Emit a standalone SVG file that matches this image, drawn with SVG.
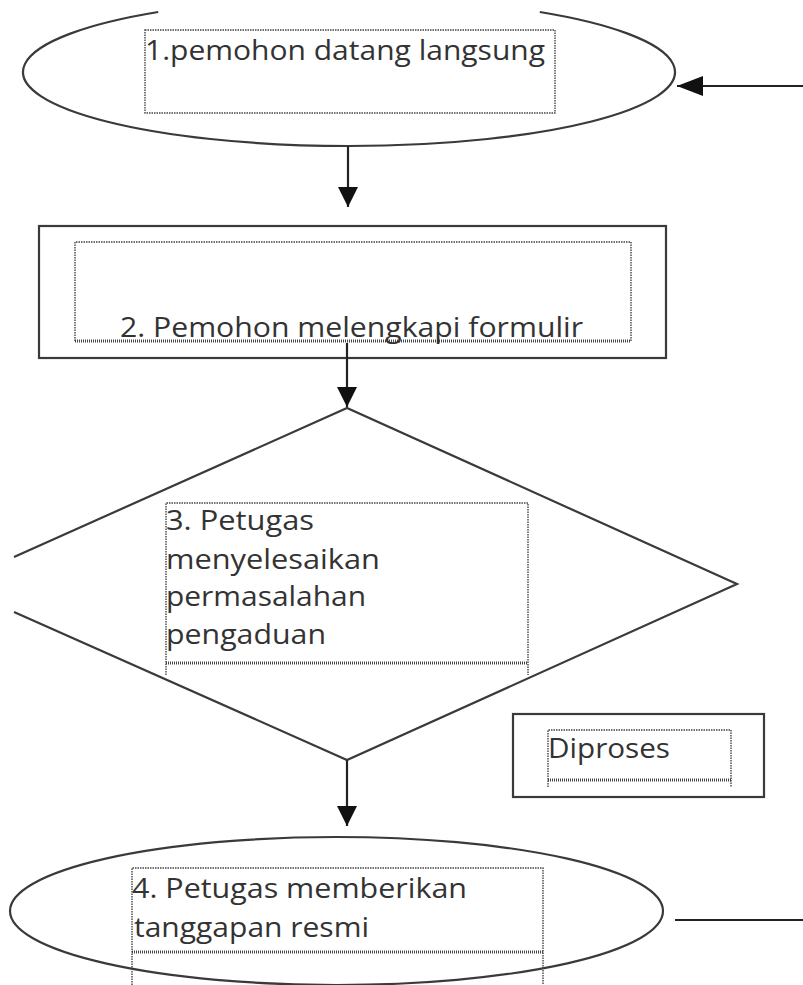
<svg xmlns="http://www.w3.org/2000/svg" width="803" height="985" viewBox="0 0 803 985">
<style>
.sh{fill:none;stroke:#3a3a3a;stroke-width:2.2}
.dot{fill:none;stroke:#444;stroke-width:1.4;stroke-dasharray:1.5 1}
.dotb{fill:none;stroke:#444;stroke-width:3;stroke-dasharray:1 1}
.t{font-family:"Open Sans","Liberation Sans",sans-serif;font-size:28px;fill:#333}
.cn{fill:none;stroke:#222;stroke-width:2.2}
</style>
<defs>
<marker id="ah" viewBox="0 0 20 20" refX="20" refY="10" markerWidth="20" markerHeight="20" markerUnits="userSpaceOnUse" orient="auto">
<path d="M0,0 L20,10 L0,20 z" fill="#111"/>
</marker>
<marker id="ah2" viewBox="0 0 26 20" refX="26" refY="10" markerWidth="26" markerHeight="20" markerUnits="userSpaceOnUse" orient="auto">
<path d="M0,0 L26,10 L0,20 z" fill="#111"/>
</marker>
</defs>
<rect width="803" height="985" fill="#fff"/>
<g id="node1">
<path class="sh" d="M158.2,12 A326,74 0 1 0 539.8,12"/>
<rect class="dot" x="145" y="30" width="410" height="83"/>
<text class="t" x="145" y="60" textLength="400" lengthAdjust="spacingAndGlyphs">1.pemohon datang langsung</text>
</g>
<g id="node2">
<rect class="sh" x="39" y="226" width="627" height="132"/>
<path class="dot" d="M75,341 V242 H631 V341"/>
<path class="dotb" d="M75,341 H631"/>
<text class="t" x="120" y="337" textLength="463" lengthAdjust="spacingAndGlyphs">2. Pemohon melengkapi formulir</text>
</g>
<g id="node3">
<polyline class="sh" points="14,557 347,408 737,584 347,760 14,612"/>
<path class="dot" d="M166,675 V503 H528 V675"/>
<path class="dotb" d="M166,663 H528"/>
<text class="t" x="166" y="530" textLength="148" lengthAdjust="spacingAndGlyphs">3. Petugas</text>
<text class="t" x="166" y="569" textLength="214" lengthAdjust="spacingAndGlyphs">menyelesaikan</text>
<text class="t" x="166" y="606" textLength="200" lengthAdjust="spacingAndGlyphs">permasalahan</text>
<text class="t" x="166" y="644" textLength="160" lengthAdjust="spacingAndGlyphs">pengaduan</text>
</g>
<g id="node-diproses">
<rect class="sh" x="513" y="714" width="251" height="83"/>
<path class="dot" d="M548,787 V730 H731 V787"/>
<path class="dotb" d="M548,780 H731"/>
<text class="t" x="548" y="758" textLength="122" lengthAdjust="spacingAndGlyphs">Diproses</text>
</g>
<g id="node4">
<ellipse class="sh" cx="336.5" cy="911" rx="326.5" ry="74"/>
<path class="dot" d="M132,985 V868 H543 V985"/>
<path class="dotb" d="M132,952 H543"/>
<text class="t" x="132" y="898" textLength="335" lengthAdjust="spacingAndGlyphs">4. Petugas memberikan</text>
<text class="t" x="134" y="937" textLength="235" lengthAdjust="spacingAndGlyphs">tanggapan resmi</text>
</g>
<g id="connectors">
<path class="cn" d="M803,86 L677,86" marker-end="url(#ah2)"/>
<path class="cn" d="M348,146 L348,207" marker-end="url(#ah)"/>
<path class="cn" d="M347,343 L347,407" marker-end="url(#ah)"/>
<path class="cn" d="M347,760 L347,826" marker-end="url(#ah)"/>
<path class="cn" d="M675,920 L803,920"/>
</g>
</svg>
